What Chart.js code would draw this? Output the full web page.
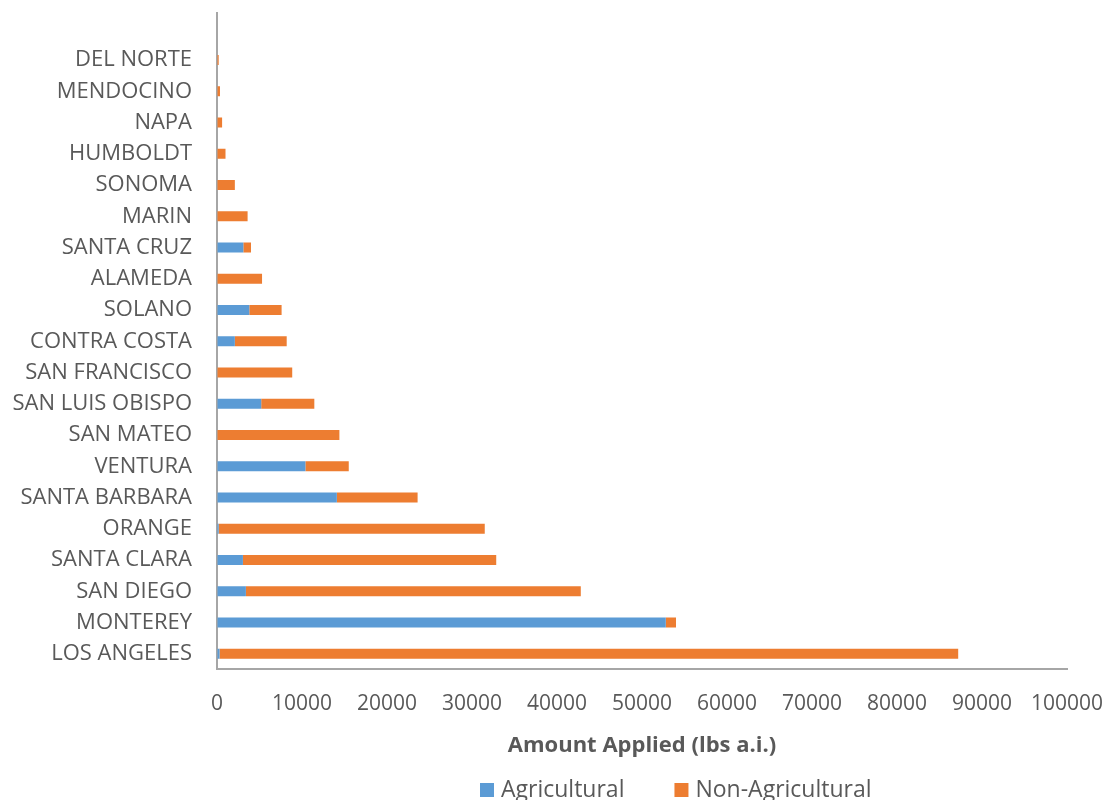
<!DOCTYPE html>
<html>
<head>
<meta charset="utf-8">
<script src="https://cdn.jsdelivr.net/npm/chart.js@4"></script>
<style>
	html, body { margin: 0; padding: 0; background: #fff; overflow: hidden; }
	#wrap { width: 1108px; height: 800px; }
</style>
</head>
<body>
<div id="wrap"><canvas id="chart"></canvas></div>
<script>
// counties, top to bottom (first row is the empty slot above DEL NORTE)
const counties = ['', 'DEL NORTE', 'MENDOCINO', 'NAPA', 'HUMBOLDT', 'SONOMA', 'MARIN', 'SANTA CRUZ',
	'ALAMEDA', 'SOLANO', 'CONTRA COSTA', 'SAN FRANCISCO', 'SAN LUIS OBISPO', 'SAN MATEO', 'VENTURA',
	'SANTA BARBARA', 'ORANGE', 'SANTA CLARA', 'SAN DIEGO', 'MONTEREY', 'LOS ANGELES'];

// lbs a.i.
const agricultural = [null, 0, 0, 0, 0, 0, 0, 3100,
	0, 3800, 2100, 0, 5200, 0, 10400,
	14100, 200, 3050, 3400, 52800, 300];

const nonAgricultural = [null, 200, 350, 600, 1000, 2100, 3600, 900,
	5300, 3800, 6100, 8850, 6250, 14400, 5100,
	9500, 31300, 29800, 39400, 1200, 86900];

const axisTitle = 'Amount Applied (lbs a.i.)';

const textColor = '#595959';
const axisColor = '#a6a6a6';
const fontFamily = "'Open Sans', sans-serif";

// legend drawn under the axis title, like the spreadsheet one
const bottomLegend = {
	id: 'bottomLegend',
	afterDraw(chart) {
		const ctx = chart.ctx;
		ctx.save();
		ctx.font = '23px ' + fontFamily;
		ctx.textBaseline = 'alphabetic';
		let x = 480;
		chart.data.datasets.forEach(ds => {
			ctx.fillStyle = ds.backgroundColor;
			ctx.fillRect(x, 783, 14, 14);
			ctx.fillStyle = textColor;
			ctx.fillText(ds.label, x + 21, 797);
			x += 21 + ctx.measureText(ds.label).width + 50;
		});
		ctx.restore();
	}
};

new Chart(document.getElementById('chart'), {
	type: 'bar',
	data: {
		labels: counties,
		datasets: [{
			label: 'Agricultural',
			data: agricultural,
			backgroundColor: '#5b9bd5',
			barPercentage: 0.32,
			categoryPercentage: 1
		},{
			label: 'Non-Agricultural',
			data: nonAgricultural,
			backgroundColor: '#ed7d31',
			barPercentage: 0.32,
			categoryPercentage: 1
		}]
	},
	plugins: [bottomLegend],
	options: {
		indexAxis: 'y',
		responsive: true,
		maintainAspectRatio: false,
		animation: false,
		layout: {
			padding: { top: 12, right: 41, left: 0, bottom: 37 }
		},
		scales: {
			x: {
				stacked: true,
				min: 0,
				max: 100000,
				grid: { drawOnChartArea: false, drawTicks: true, tickLength: 22, color: 'transparent' },
				border: { color: axisColor, width: 2 },
				ticks: {
					stepSize: 10000,
					padding: 0,
					maxRotation: 0,
					color: textColor,
					font: { family: fontFamily, size: 21 },
					callback: v => String(v)
				},
				title: {
					display: true,
					text: axisTitle,
					color: textColor,
					font: { family: fontFamily, size: 22, weight: 'bold' },
					padding: { top: 16, bottom: 4 }
				}
			},
			y: {
				stacked: true,
				afterFit: s => { s.width = 217; },
				grid: { drawOnChartArea: false, drawTicks: true, tickLength: 25, color: 'transparent' },
				border: { color: axisColor, width: 2 },
				ticks: {
					padding: 0,
					color: textColor,
					autoSkip: false,
					font: { family: fontFamily, size: 22 }
				}
			}
		},
		plugins: {
			tooltip: { enabled: false },
			legend: { display: false }
		}
	}
});
</script>
</body>
</html>
